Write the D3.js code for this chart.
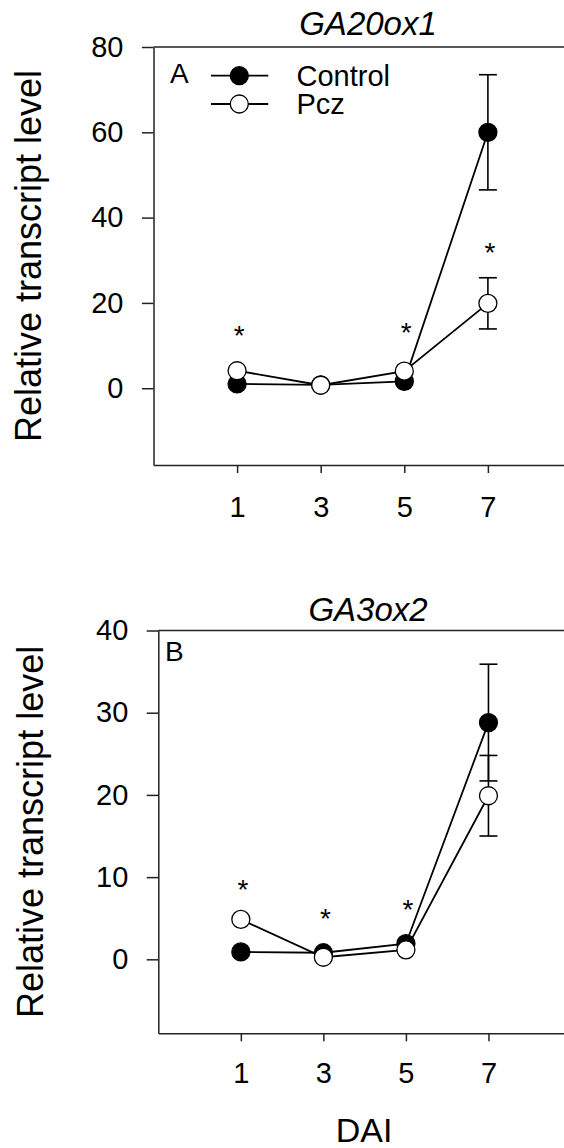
<!DOCTYPE html>
<html>
<head>
<meta charset="utf-8">
<script src="https://cdn.jsdelivr.net/npm/d3@7"></script>
<style>
  html, body { margin: 0; padding: 0; background: #fff; }
  svg { display: block; }
  text { font-family: "Liberation Sans", Arial, Helvetica, sans-serif; fill: #000; }
</style>
</head>
<body>
<svg id="chart" width="564" height="1148"></svg>
<script>
// ---------- data ----------
const days = [1, 3, 5, 7];
const dayTicks = [1, 3, 5, 7];
const seriesNames = ["Control", "Pcz"];

// Panel A: GA20ox1
const ga20Control = [1.0, 0.8, 1.6, 60.0];
const ga20ControlErr = [0, 0, 0, 13.5];
const ga20Pcz = [4.1, 0.7, 4.0, 19.9];
const ga20PczErr = [0, 0, 0, 6.0];
const ga20StarDays = [1, 5, 7];
const ga20StarLevels = [13.8, 14.5, 33.3];
const ga20Ticks = [0, 20, 40, 60, 80];

// Panel B: GA3ox2
const ga3Control = [0.9, 0.8, 1.9, 28.8];
const ga3ControlErr = [0, 0, 0, 7.1];
const ga3Pcz = [4.85, 0.25, 1.15, 19.9];
const ga3PczErr = [0, 0, 0, 4.9];
const ga3StarDays = [1, 3, 5];
const ga3StarLevels = [9.3, 5.7, 6.8];
const ga3Ticks = [0, 10, 20, 30, 40];

// ---------- drawing ----------
const svg = d3.select("#chart");

function panel(cfg) {
  const g = svg.append("g");
  const x = d3.scaleLinear().domain([-1, 9]).range([cfg.left, cfg.right]);
  const y = d3.scaleLinear().domain(cfg.yDomain).range([cfg.bottom, cfg.top]);

  // top frame line
  g.append("line")
    .attr("x1", cfg.left).attr("x2", cfg.right)
    .attr("y1", cfg.top).attr("y2", cfg.top)
    .attr("stroke", "#222").attr("stroke-width", 1.5);

  // y axis
  const ya = g.append("g")
    .attr("transform", `translate(${cfg.left},0)`)
    .call(d3.axisLeft(y).tickValues(cfg.yTicks).tickSize(11.6).tickSizeOuter(0).tickPadding(18.4).tickFormat(d3.format("d")));
  ya.select(".domain").attr("stroke", "#222").attr("stroke-width", 1.5);
  ya.selectAll(".tick line").attr("stroke", "#222").attr("stroke-width", 1.5);
  ya.selectAll(".tick text").attr("font-size", 29).attr("font-family", null).attr("fill", "#000");

  // x axis
  const xa = g.append("g")
    .attr("transform", `translate(0,${cfg.bottom})`)
    .call(d3.axisBottom(x).tickValues(dayTicks).tickSize(8).tickSizeOuter(0).tickPadding(cfg.xPad).tickFormat(d3.format("d")));
  xa.select(".domain").attr("stroke", "#222").attr("stroke-width", 1.5);
  xa.selectAll(".tick line").attr("stroke", "#222").attr("stroke-width", 1.5);
  xa.selectAll(".tick text").attr("font-size", 29).attr("font-family", null).attr("fill", "#000");

  // y axis title
  g.append("text")
    .attr("transform", `translate(${cfg.yTitleX},${(cfg.top + cfg.bottom) / 2}) rotate(-90)`)
    .attr("text-anchor", "middle")
    .attr("font-size", 36)
    .text("Relative transcript level");

  // title
  g.append("text")
    .attr("x", 368).attr("y", cfg.titleY)
    .attr("text-anchor", "middle")
    .attr("font-size", 33)
    .attr("font-style", "italic")
    .text(cfg.title);

  // panel letter
  g.append("text")
    .attr("x", cfg.letterX).attr("y", cfg.letterY)
    .attr("font-size", 28)
    .text(cfg.letter);

  const line = d3.line().x((d, i) => x(days[i])).y(d => y(d));

  cfg.series.forEach(s => {
    // error bars
    const eb = g.append("g");
    s.values.forEach((v, i) => {
      const e = s.errs[i];
      if (!e) return;
      const cx = x(days[i]);
      eb.append("line").attr("x1", cx).attr("x2", cx).attr("y1", y(v - e)).attr("y2", y(v + e))
        .attr("stroke", "#000").attr("stroke-width", 1.6);
      [v - e, v + e].forEach(val => {
        eb.append("line").attr("x1", cx - 9).attr("x2", cx + 9).attr("y1", y(val)).attr("y2", y(val))
          .attr("stroke", "#000").attr("stroke-width", 1.6);
      });
    });
    // line
    g.append("path").datum(s.values)
      .attr("d", line)
      .attr("fill", "none").attr("stroke", "#000").attr("stroke-width", 1.8);
    // markers
    g.selectAll(null).data(s.values).enter().append("circle")
      .attr("cx", (d, i) => x(days[i])).attr("cy", d => y(d))
      .attr("r", 9)
      .attr("fill", s.fill).attr("stroke", "#000").attr("stroke-width", 1.3);
  });

  // significance stars
  g.selectAll(null).data(cfg.starDays).enter().append("text")
    .attr("x", d => x(d)).attr("dx", 2)
    .attr("y", (d, i) => y(cfg.starLevels[i]))
    .attr("dy", "0.57em")
    .attr("text-anchor", "middle")
    .attr("font-size", 28)
    .text("*");

  return { g, x, y };
}

const pA = panel({
  left: 153.5, right: 571.5, top: 47, bottom: 465,
  yDomain: [-18, 80], yTicks: ga20Ticks, xPad: 23,
  yTitleX: 41, title: "GA20ox1", titleY: 35,
  letter: "A", letterX: 170, letterY: 82.7,
  series: [
    { values: ga20Control, errs: ga20ControlErr, fill: "#000" },
    { values: ga20Pcz, errs: ga20PczErr, fill: "#fff" }
  ],
  starDays: ga20StarDays, starLevels: ga20StarLevels
});

const pB = panel({
  left: 158.3, right: 571, top: 630.5, bottom: 1033.3,
  yDomain: [-9, 40], yTicks: ga3Ticks, xPad: 21.4,
  yTitleX: 43, title: "GA3ox2", titleY: 620.7,
  letter: "B", letterX: 165, letterY: 660.7,
  series: [
    { values: ga3Control, errs: ga3ControlErr, fill: "#000" },
    { values: ga3Pcz, errs: ga3PczErr, fill: "#fff" }
  ],
  starDays: ga3StarDays, starLevels: ga3StarLevels
});

// legend (panel A)
const legend = svg.append("g");
const legendRows = [75.7, 104];
const legendFills = ["#000", "#fff"];
seriesNames.forEach((name, i) => {
  const ly = legendRows[i];
  legend.append("line").attr("x1", 211).attr("x2", 268.3).attr("y1", ly).attr("y2", ly)
    .attr("stroke", "#000").attr("stroke-width", 1.8);
  legend.append("circle").attr("cx", 239.3).attr("cy", ly).attr("r", 9)
    .attr("fill", legendFills[i]).attr("stroke", "#000").attr("stroke-width", 1.3);
  legend.append("text").attr("x", 296.5).attr("y", ly + 10.3)
    .attr("font-size", 29).text(name);
});

// shared x-axis title
svg.append("text")
  .attr("x", 364).attr("y", 1142)
  .attr("text-anchor", "middle")
  .attr("font-size", 34)
  .text("DAI");
</script>
</body>
</html>
